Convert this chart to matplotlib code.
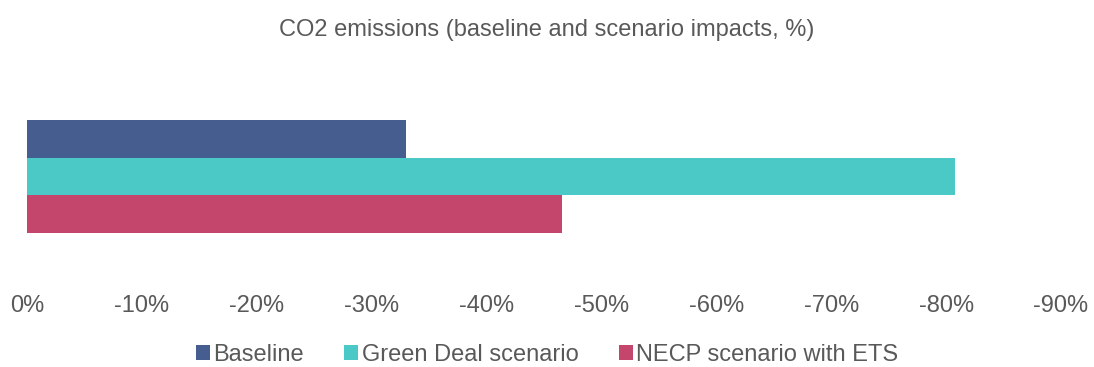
import matplotlib.pyplot as plt
import numpy as np
from matplotlib.ticker import FuncFormatter

plt.rcParams['font.family'] = ['Liberation Sans', 'DejaVu Sans']

series = ['Baseline', 'Green Deal scenario', 'NECP scenario with ETS']
values = [-33.0, -80.8, -46.6]  # % change in CO2 emissions
colors = ['#465E8F', '#4AC9C6', '#C4466D']
ticks = np.arange(0, -100, -10)

text_color = '#595959'

fig = plt.figure(figsize=(10.94, 3.67), dpi=100)
ax = fig.add_axes([27 / 1094, 1 - 270 / 367, (1061 - 27) / 1094, (270 - 83) / 367])

pos = np.arange(len(series))
for p, v, c, name in zip(pos, values, colors, series):
    ax.barh(p, v, height=1.0, color=c, label=name)

ax.set_xlim(0, -90)
ax.set_ylim(3.5, -1.5)
ax.set_xticks(ticks)
ax.xaxis.set_major_formatter(FuncFormatter(lambda x, _: f'{x:.0f}%' if x != 0 else '0%'))
ax.set_yticks([])
ax.tick_params(axis='x', length=0, pad=18, labelsize=17, labelcolor=text_color)
for s in ax.spines.values():
    s.set_visible(False)

fig.suptitle('CO2 emissions (baseline and scenario impacts, %)', y=1 - 30 / 367,
             va='center', fontsize=17, color=text_color)

handles, labels = ax.get_legend_handles_labels()
fig.legend(handles, labels, loc='center', bbox_to_anchor=(0.5, 1 - 355 / 367), ncol=3,
           frameon=False, fontsize=17, labelcolor=text_color,
           handlelength=0.6, handleheight=0.6, handletextpad=0.15, columnspacing=1.7)

fig.savefig('out.png', dpi=100)
